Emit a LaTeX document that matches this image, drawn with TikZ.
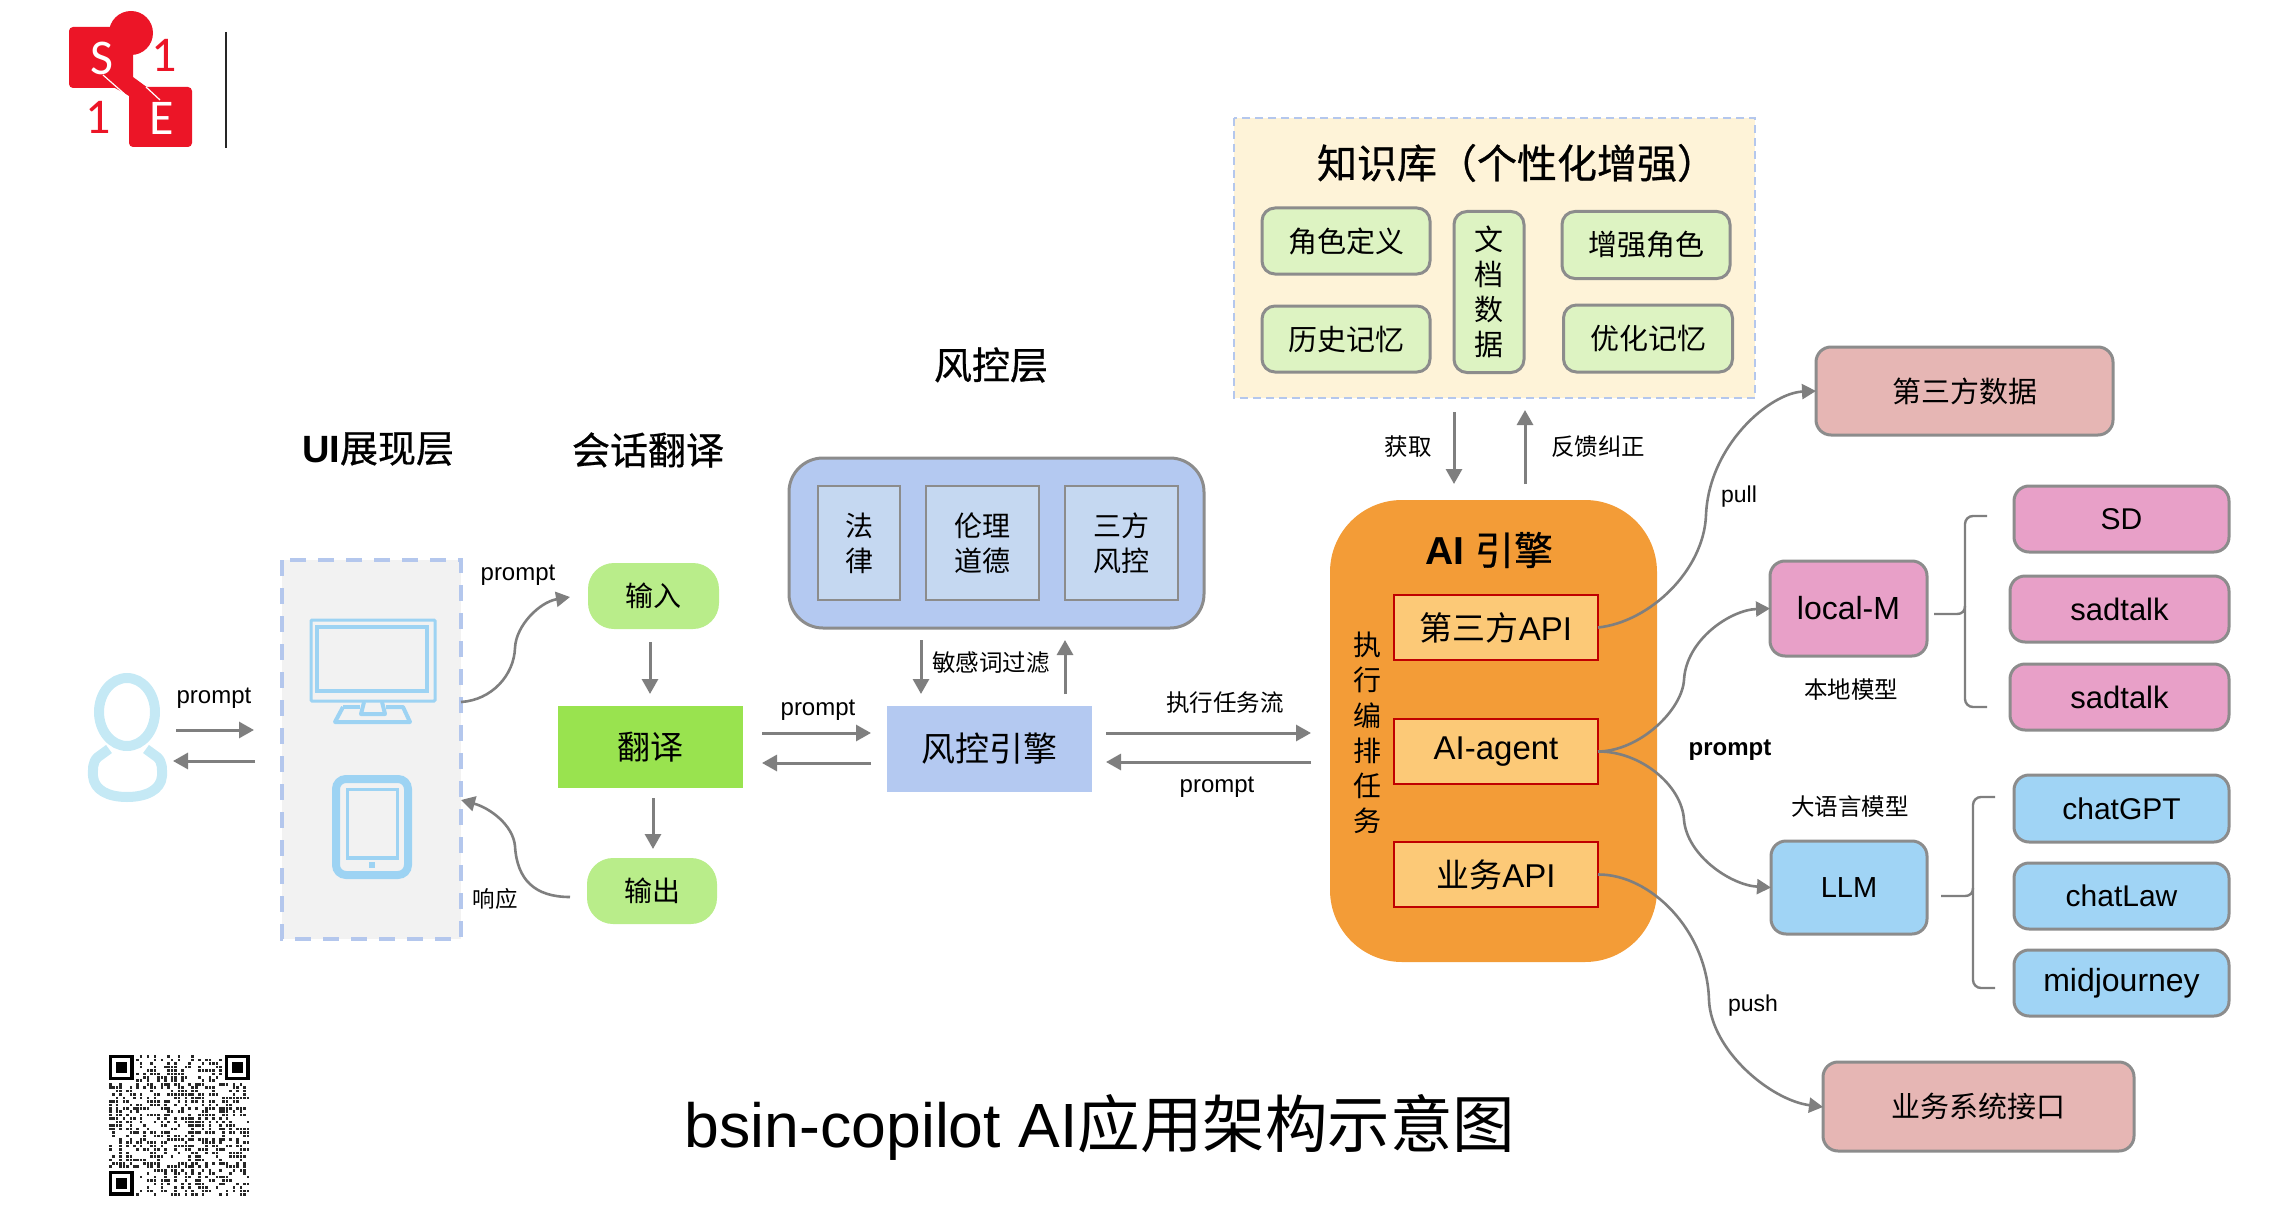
\documentclass[tikz,border=0pt]{standalone}
\usepackage{fontspec}
\setmainfont{Liberation Sans}
\newfontfamily\cjk{Noto Sans CJK SC}
\newfontfamily\cjkb[FakeBold=0.7]{Noto Sans CJK SC}
\newfontfamily\logofont{Carlito}
\usetikzlibrary{arrows.meta,calc}
\newcommand\fz[2]{\fontsize{#1}{#2}\selectfont}
\definecolor{arrgray}{HTML}{7F7F7F}
\definecolor{edgegray}{HTML}{8C8C8C}
\definecolor{dashblue}{HTML}{B4C7ED}
\definecolor{panelblue}{HTML}{B4C9F1}
\definecolor{innerblue}{HTML}{C5D8F1}
\definecolor{icon}{HTML}{9DD3F3}
\definecolor{personc}{HTML}{C5E9F5}
\definecolor{kbfill}{HTML}{FEF3D8}
\definecolor{kbgreen}{HTML}{DDF3C2}
\definecolor{pillgreen}{HTML}{B9ED8A}
\definecolor{trgreen}{HTML}{99E34F}
\definecolor{enginec}{HTML}{F39C37}
\definecolor{apifill}{HTML}{FCC977}
\definecolor{apired}{HTML}{C00000}
\definecolor{pinkc}{HTML}{E8A0C8}
\definecolor{bluec}{HTML}{A0D4F5}
\definecolor{rosec}{HTML}{E6B6B4}
\definecolor{logored}{HTML}{EC1527}
\tikzset{
  every node/.style={inner sep=0pt,outer sep=0pt,align=center,text=black},
  arr/.style={draw=arrgray,line width=3pt,-{Triangle[length=15pt,width=16pt]}},
  curve/.style={draw=arrgray,line width=2.6pt,-{Triangle[length=14pt,width=15pt]}},
  brace/.style={draw=arrgray,line width=2.4pt},
  lab/.style={font=\fz{24}{30}},
  zlab/.style={font=\fz{23.5}{30}\cjk},
  heading/.style={font=\fz{38}{46}\cjkb},
  pill/.style={fill=pillgreen,rounded corners=26pt,font=\fz{28}{34}\cjk},
  kbitem/.style={draw=edgegray,line width=3pt,fill=kbgreen,rounded corners=13pt,font=\fz{29}{35}\cjk},
  rinner/.style={draw=edgegray,line width=2.2pt,fill=innerblue,font=\fz{28}{35}\cjk},
  apibox/.style={draw=apired,line width=2.6pt,fill=apifill,minimum width=204pt,minimum height=65pt,font=\fz{33}{40}},
  model/.style={draw=edgegray,line width=3pt,rounded corners=15pt},
  ptitle/.style={font=\fz{50}{56}\logofont,text=white},
  rone/.style={font=\fz{50}{56}\logofont,text=logored}
}
\begin{document}
\begin{tikzpicture}[x=1pt,y=-1pt]
\useasboundingbox (0,0) rectangle (2287,1225);
% logo
\fill[logored,rounded corners=4pt] (69,27) rectangle (133,88);
\fill[logored] (131,33) circle (22pt);
\fill[logored,rounded corners=4pt] (129,87) rectangle (192,147);
\fill[logored] (133,77) -- (148,88) -- (150,96) -- (129,96) -- (115,88) -- cycle;
\draw[white,line width=1.2pt] (103,75) -- (128,97) (146,87) -- (160,100);
\node[ptitle] (logoS) at (102,58) {S};
\node[ptitle] (logoE) at (162,118) {E};
\node[rone] (logoa) at (164,55) {1};
\node[rone] (logob) at (98,117) {1};
\draw[black!85,line width=2.4pt] (226,32) -- (226,148);
% headings
\node[font=\fz{38}{46}] (hui) at (378,449) {\textbf{UI}{\cjkb 展现层}};
\node[heading] (hconv) at (648,450) {会话翻译};
\node[heading] (hrisk) at (991,365) {风控层};
% user
\draw[personc,line width=10pt] (127,712) ellipse (28pt and 34pt);
\draw[personc,line width=10pt,line join=round] (109,749) -- (98,757) .. controls (92,762) and (93,770) .. (93,776) .. controls (94,790) and (108,797) .. (127,797) .. controls (146,797) and (161,790) .. (162,776) .. controls (162,770) and (163,762) .. (157,757) -- (146,749);
\coordinate (userR) at (176,730);
\coordinate (userL) at (173,761);
% UI box
\node[fill=black!5,minimum width=179pt,minimum height=379pt] (ui) at (371.5,749.5) {};
\draw[dashblue,line width=3.6pt,dash pattern=on 16pt off 12pt] (ui.north west) rectangle (ui.south east);
\draw[icon,line width=3pt,rounded corners=1pt] (311,620) rectangle (435,701);
\draw[icon,line width=4pt] (317,627) rectangle (427,691);
\draw[icon,line width=4pt,line join=round] (364,702) -- (361,714) -- (385,714) -- (382,702);
\draw[icon,line width=4pt,line join=round] (343,707) -- (335,722) -- (410,722) -- (403,707) -- (386,707);
\draw[icon,line width=4pt,line join=round] (343,707) -- (360,707);
\draw[icon,line width=8pt,rounded corners=10pt] (336,779) rectangle (408,875);
\draw[icon,line width=3.4pt] (347.5,789.5) rectangle (397.5,858);
\fill[icon] (369,862) rectangle (375,868);
\coordinate (uiR) at (254,730);
\coordinate (uiL) at (255,761);
\draw[arr] (userR) -- (uiR);
\draw[arr] (uiL) -- (userL);
\node[lab] (lp1) at (214,698) {prompt};
% translate column
\node[pill,minimum width=131pt,minimum height=66pt] (in) at (653.5,596) {输入};
\node[fill=trgreen,minimum width=185pt,minimum height=82pt,font=\fz{33}{40}\cjk] (tr) at (650.5,747) {翻译};
\node[pill,minimum width=130pt,minimum height=66pt] (out) at (652,891) {输出};
\draw[arr,shorten <=13pt,shorten >=12pt] ([xshift=-3.5pt]in.south) -- ([xshift=-0.5pt]tr.north);
\draw[arr,shorten <=10pt,shorten >=9pt] ([xshift=2.5pt]tr.south) -- ([xshift=1pt]out.north);
\draw[curve] ([yshift=47.5pt]ui.east) .. controls (492,700) and (514,675) .. (515,648) .. controls (516,625) and (540,602) .. ([xshift=-18pt,yshift=-1pt]in.west);
\draw[curve] ([xshift=-17pt,yshift=-6pt]out.west) .. controls (535,897) and (517,880) .. (515,846) .. controls (513,825) and (490,808) .. ([yshift=-50.5pt]ui.east);
\node[lab] (lp2) at (518,575) {prompt};
\node[font=\fz{22.5}{28}\cjk] (lres) at (495,899) {响应};
% risk panel
\node[draw=edgegray,line width=3pt,fill=panelblue,rounded corners=34pt,minimum width=415pt,minimum height=170pt] (panel) at (996.5,543) {};
\node[rinner,minimum width=82pt,minimum height=114pt] (law) at (859,543) {法\\律};
\node[rinner,minimum width=113pt,minimum height=114pt] (eth) at (982.5,543) {伦理\\道德};
\node[rinner,minimum width=113pt,minimum height=114pt] (third) at (1121.5,543) {三方\\风控};
\node[fill=panelblue,minimum width=205pt,minimum height=86pt,font=\fz{34}{40}\cjk] (risk) at (989.5,749) {风控引擎};
\draw[arr,shorten <=12pt,shorten >=12pt] ([xshift=-75.5pt]panel.south) -- ([xshift=-68.5pt]risk.north);
\draw[arr,shorten <=12pt,shorten >=12pt] ([xshift=75.5pt]risk.north) -- ([xshift=68.5pt]panel.south);
\node[font=\fz{23.5}{30}\cjk] (lfilt) at (991,663) {敏感词过滤};
\draw[arr,shorten <=19pt,shorten >=16pt] ([yshift=14pt]tr.east) -- ([yshift=16pt]risk.west);
\draw[arr,shorten <=16pt,shorten >=19pt] ([yshift=-14pt]risk.west) -- ([yshift=-16pt]tr.east);
\node[lab] (lp3) at (818,710) {prompt};
% engine
\node[fill=enginec,rounded corners=72pt,minimum width=327pt,minimum height=462pt] (eng) at (1493.5,731) {};
\node[font=\fz{39}{46}] (engt) at (1489,550) {\textbf{AI} {\cjkb 引擎}};
\node[apibox] (api3) at (1496,627.5) {{\cjk 第三方}API};
\node[apibox] (agent) at (1496,751.5) {\raisebox{-6pt}{AI-agent}};
\node[apibox] (apib) at (1496,874.5) {{\cjk 业务}API};
\node[font=\fz{28}{35.2}\cjk] (lflow) at (1367,733) {执\\行\\编\\排\\任\\务};
\draw[arr,shorten <=14pt,shorten >=19pt] ([yshift=16pt]risk.east) -- ([yshift=-2pt]eng.west);
\draw[arr,shorten <=19pt,shorten >=14pt] ([yshift=-31pt]eng.west) -- ([yshift=-13pt]risk.east);
\node[font=\fz{23.5}{30}\cjk] (lexec) at (1225,703) {执行任务流};
\node[lab] (lp4) at (1217,787) {prompt};
% knowledge base
\node[fill=kbfill,minimum width=521pt,minimum height=280pt] (kb) at (1494.5,258) {};
\draw[dashblue,line width=2.6pt,dash pattern=on 8pt off 5pt] (kb.north west) rectangle (kb.south east);
\node[font=\fz{40}{46}\cjkb] (kbt) at (1517,163) {知识库（个性化增强）};
\node[kbitem,minimum width=168pt,minimum height=66pt] (k1) at (1346,241) {角色定义};
\node[kbitem,minimum width=168pt,minimum height=66pt] (k2) at (1346,339) {历史记忆};
\node[kbitem,minimum width=70pt,minimum height=161pt,font=\fz{29}{35}\cjk] (k3) at (1489,292) {文\\档\\数\\据};
\node[kbitem,minimum width=168pt,minimum height=67pt] (k4) at (1646,245) {增强角色};
\node[kbitem,minimum width=169pt,minimum height=67pt] (k5) at (1648,338.5) {优化记忆};
\draw[arr,shorten <=14pt,shorten >=16pt] ([xshift=-40.5pt]kb.south) -- ([xshift=-39.5pt]eng.north);
\draw[arr,shorten <=16pt,shorten >=12pt] ([xshift=31.5pt]eng.north) -- ([xshift=30.5pt]kb.south);
\node[zlab] (lget) at (1408,447) {获取};
\node[zlab] (lfb) at (1598,447) {反馈纠正};
% right column
\node[model,fill=rosec,minimum width=297pt,minimum height=88pt,font=\fz{29}{35}\cjk] (tp) at (1964.5,391) {第三方数据};
\node[model,fill=rosec,minimum width=311pt,minimum height=89pt,font=\fz{29}{35}\cjk] (biz) at (1978.5,1106.5) {业务系统接口};
\node[model,fill=pinkc,minimum width=157pt,minimum height=95pt,font=\fz{32}{38}] (local) at (1848.5,608.5) {local-M};
\node[model,fill=bluec,minimum width=156pt,minimum height=93pt,font=\fz{29}{36}] (llm) at (1849,887.5) {LLM};
\node[model,fill=pinkc,minimum width=215pt,minimum height=66pt,font=\fz{30}{36}] (sd) at (2121.5,519) {SD};
\node[model,fill=pinkc,minimum width=219pt,minimum height=66pt,font=\fz{31}{37}] (st1) at (2119.5,609) {sadtalk};
\node[model,fill=pinkc,minimum width=219pt,minimum height=66pt,font=\fz{31}{37}] (st2) at (2119.5,697) {sadtalk};
\node[model,fill=bluec,minimum width=215pt,minimum height=67pt,font=\fz{30}{36}] (gpt) at (2121.5,808.5) {chatGPT};
\node[model,fill=bluec,minimum width=215pt,minimum height=66pt,font=\fz{30}{36}] (claw) at (2121.5,896) {chatLaw};
\node[model,fill=bluec,minimum width=215pt,minimum height=66pt,font=\fz{32}{38}] (mj) at (2121.5,983) {\raisebox{-4pt}{midjourney}};
\draw[curve] (api3.east) .. controls (1650,622) and (1704,570) .. (1706,515) .. controls (1709,445) and (1770,393) .. (tp.west);
\draw[curve] (agent.east) .. controls (1640,751) and (1682,710) .. (1684,680) .. controls (1686,640) and (1730,610) .. (local.west);
\draw[curve] (agent.east) .. controls (1640,751) and (1682,785) .. (1684,820) .. controls (1687,855) and (1730,885) .. (llm.west);
\draw[curve] (apib.east) .. controls (1650,874) and (1707,930) .. (1709,1000) .. controls (1711,1050) and (1770,1100) .. ([yshift=-0.5pt]biz.west);
\node[font=\fz{23}{28}] (lpull) at (1739,497) {pull};
\node[font=\fz{23}{28}] (lpush) at (1753,1006) {push};
\node[font=\fz{24}{30}\bfseries] (lpb) at (1730,750) {prompt};
\node[zlab] (llocal) at (1851,690) {本地模型};
\node[zlab] (lllm) at (1850,807) {大语言模型};
\coordinate (b1a) at (1987,516);
\coordinate (b1b) at (1987,707);
\coordinate (b1c) at (1934,614);
\draw[brace,rounded corners=8pt] (b1a) -- (1965,516) -- (1965,707) -- (b1b);
\draw[brace] (b1c) -- (1957,614) .. controls (1962,614) and (1965,611) .. (1965,606);
\coordinate (b2a) at (1995,797);
\coordinate (b2b) at (1995,988);
\coordinate (b2c) at (1941,896);
\draw[brace,rounded corners=8pt] (b2a) -- (1973,797) -- (1973,988) -- (b2b);
\draw[brace] (b2c) -- (1965,896) .. controls (1970,896) and (1973,893) .. (1973,888);
% title
\node[font=\fz{62.5}{72}] (title) at (1100,1127) {bsin-copilot AI{\cjk 应用架构示意图}};
% QR code
\begin{scope}[shift={(108.5,1055)}]
\pgfmathsetseed{20}
\foreach \i in {0,...,40}{
  \foreach \j in {0,...,40}{
    \pgfmathrandominteger{\rr}{0}{99}
    \pgfmathtruncatemacro\skipit{((\i<8)&&(\j<8))||((\i>32)&&(\j<8))||((\i<8)&&(\j>32))||(\rr>44)}
    \ifnum\skipit=0
      \fill[black!85] ({\i*3.44+0.4},{\j*3.44+0.4}) rectangle +(2.6,2.6);
    \fi
  }
}
\foreach \ox/\oy in {0/0,116/0,0/115.5}{
  \draw[black,line width=3.4pt] (\ox+1.7,\oy+1.7) rectangle (\ox+23.3,\oy+23.3);
  \fill[black] (\ox+7,\oy+7) rectangle (\ox+18,\oy+18);
}
\end{scope}
\end{tikzpicture}
\end{document}
